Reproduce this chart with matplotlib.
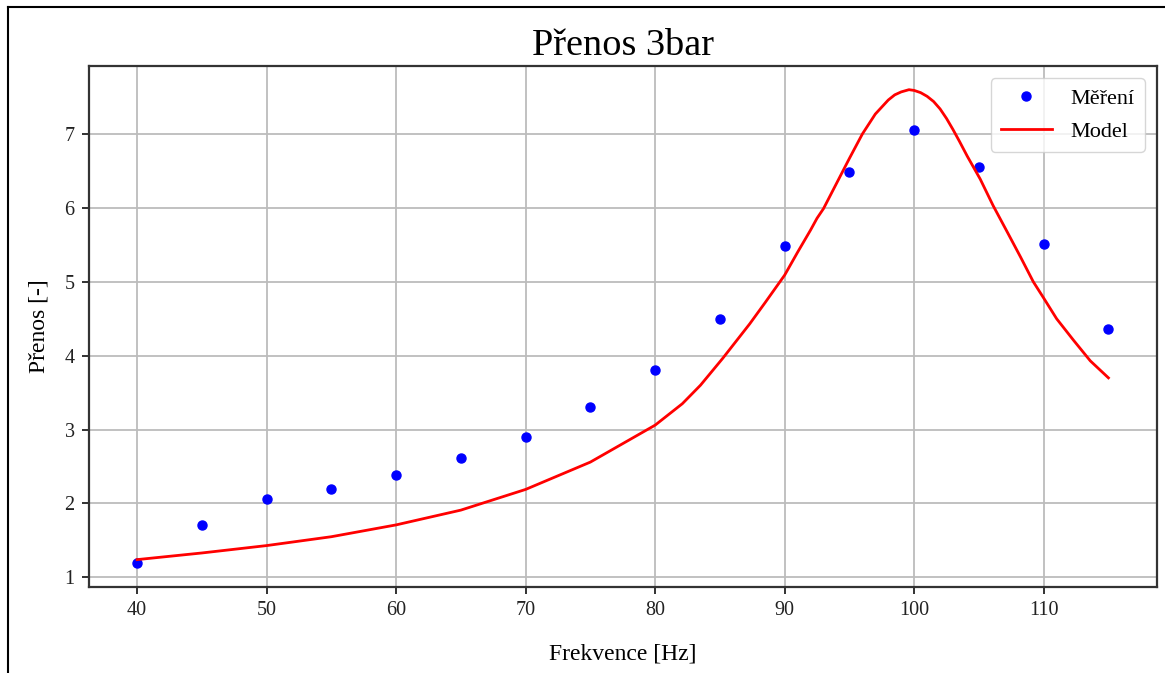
import matplotlib
matplotlib.use("Agg")
import matplotlib.pyplot as plt
from matplotlib.lines import Line2D

plt.rcParams['font.family'] = ['Liberation Serif', 'DejaVu Serif']

# Measured data (Měření)
meas_f = [40, 45, 50, 55, 60, 65, 70, 75, 80, 85, 90, 95, 100, 105, 110, 115]
meas_v = [1.19, 1.71, 2.06, 2.19, 2.38, 2.61, 2.90, 3.30, 3.81, 4.49, 5.48, 6.48, 7.06, 6.55, 5.51, 4.36]

# Model curve
model_f = [40, 45, 50, 55, 60, 65, 70, 75, 76.4, 78, 80, 82.1, 83.5, 85.2, 87.3, 88.5, 90, 91, 92, 92.5,
           93, 94, 95, 96, 97, 98, 98.5, 99, 99.6, 100, 100.5, 101, 101.5, 102, 102.5, 103, 103.5,
           104.1, 105.1, 106.1, 107.2, 108.2, 109.2, 110, 111, 112.3, 113.6, 115]
model_v = [1.24, 1.33, 1.43, 1.55, 1.71, 1.91, 2.19, 2.56, 2.70, 2.86, 3.06, 3.35, 3.60, 3.96, 4.43,
           4.72, 5.09, 5.40, 5.70, 5.86, 5.99, 6.33, 6.67, 7.00, 7.27, 7.46, 7.53, 7.57, 7.60, 7.59,
           7.56, 7.51, 7.44, 7.34, 7.21, 7.06, 6.90, 6.70, 6.39, 6.03, 5.67, 5.34, 5.00, 4.78, 4.50,
           4.21, 3.93, 3.70]

fig = plt.figure(figsize=(11.65, 6.73), dpi=100)
ax = fig.add_axes([88.5 / 1165, 86 / 673, (1157 - 88.5) / 1165, (587 - 66) / 673])

ax.plot(meas_f, meas_v, 'o', color='blue', markersize=6.5, label='Měření')
ax.plot(model_f, model_v, '-', color='red', linewidth=2.0, label='Model')

ax.grid(True, color='#bcbcbc', linewidth=1.3)
ax.set_axisbelow(True)
for s in ax.spines.values():
    s.set_linewidth(1.6)
    s.set_color('#333333')
ax.tick_params(labelsize=14.5, width=1.3, length=5, pad=5, colors='#222222')

ax.set_title('Přenos 3bar', fontsize=27.5, pad=8)
ax.set_xlabel('Frekvence [Hz]', fontsize=17, labelpad=17)
ax.set_ylabel('Přenos [-]', fontsize=17, labelpad=11)
ax.legend(loc='upper right', fontsize=16, handlelength=2.3, handletextpad=0.85,
          borderpad=0.45, labelspacing=0.55, borderaxespad=0.55)

# outer screenshot border (left and top)
fig.add_artist(Line2D([8 / 1165, 8 / 1165], [0, 1 - 7 / 673], transform=fig.transFigure,
                      color='black', linewidth=1.5))
fig.add_artist(Line2D([8 / 1165, 1], [1 - 7 / 673, 1 - 7 / 673], transform=fig.transFigure,
                      color='black', linewidth=1.5))

fig.savefig('out.png', dpi=100)
